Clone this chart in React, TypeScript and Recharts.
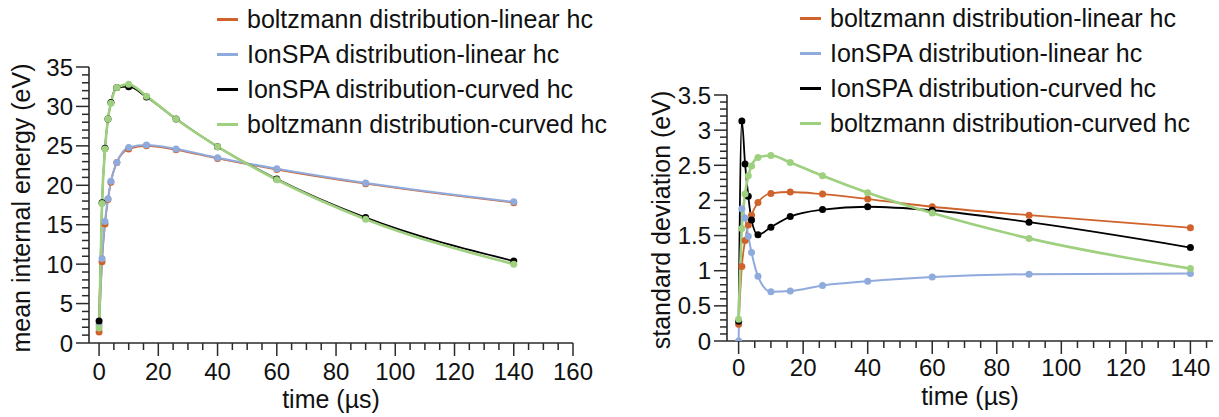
import React from 'react';
import { LineChart, Line, XAxis, YAxis, Legend } from 'recharts';

// time points (µs)
const times = [0, 1, 2, 3, 4, 6, 10, 16, 26, 40, 60, 90, 140];

// mean internal energy (eV)
const meanBoltzLinear = [1.4, 10.3, 15.1, 18.2, 20.4, 22.9, 24.6, 25.0, 24.5, 23.4, 22.0, 20.2, 17.8];
const meanIonLinear = [2.3, 10.7, 15.4, 18.3, 20.5, 22.9, 24.8, 25.1, 24.6, 23.5, 22.1, 20.3, 17.9];
const meanIonCurved = [2.8, 17.8, 24.7, 28.4, 30.5, 32.4, 32.5, 31.2, 28.4, 24.9, 20.8, 15.9, 10.4];
const meanBoltzCurved = [1.9, 17.7, 24.6, 28.4, 30.4, 32.4, 32.8, 31.3, 28.4, 24.9, 20.7, 15.7, 10.0];

// standard deviation (eV)
const sdBoltzLinear = [0.24, 1.06, 1.43, 1.65, 1.79, 1.97, 2.1, 2.12, 2.09, 2.02, 1.91, 1.79, 1.61];
const sdIonLinear = [0, 1.88, 1.75, 1.49, 1.26, 0.92, 0.7, 0.71, 0.79, 0.85, 0.91, 0.95, 0.96];
const sdIonCurved = [0.28, 3.13, 2.52, 2.06, 1.72, 1.51, 1.62, 1.77, 1.87, 1.91, 1.86, 1.69, 1.33];
const sdBoltzCurved = [0.31, 1.6, 2.09, 2.35, 2.49, 2.61, 2.64, 2.54, 2.35, 2.11, 1.82, 1.46, 1.03];

// axis ticks (majors get labels)
const meanXMajor = [0, 20, 40, 60, 80, 100, 120, 140, 160];
const meanYMajor = [0, 5, 10, 15, 20, 25, 30, 35];
const sdXMajor = [0, 20, 40, 60, 80, 100, 120, 140];
const sdYMajor = [0, 0.5, 1, 1.5, 2, 2.5, 3, 3.5];

const steps = (from: number, to: number, step: number) => {
  const out: number[] = [];
  const n = Math.round((to - from) / step);
  for (let i = 0; i <= n; i++) out.push(Math.round((from + i * step) * 1000) / 1000);
  return out;
};

const series = [
  { key: 'bl', name: 'boltzmann distribution-linear hc', color: '#D0622B', width: 1.8 },
  { key: 'il', name: 'IonSPA distribution-linear hc', color: '#8FAADC', width: 2 },
  { key: 'ic', name: 'IonSPA distribution-curved hc', color: '#000000', width: 1.8 },
  { key: 'bc', name: 'boltzmann distribution-curved hc', color: '#9FD080', width: 2.6 },
];

const meanData = times.map((t, i) => ({
  t,
  bl: meanBoltzLinear[i],
  il: meanIonLinear[i],
  ic: meanIonCurved[i],
  bc: meanBoltzCurved[i],
}));

const sdData = times.map((t, i) => ({
  t,
  bl: sdBoltzLinear[i],
  il: sdIonLinear[i],
  ic: sdIonCurved[i],
  bc: sdBoltzCurved[i],
}));

const AXIS = '#2a2a2a';
const FONT = '"Liberation Sans", Arial, sans-serif';

const isMajor = (majors: number[], v: number) => majors.some((m) => Math.abs(m - v) < 1e-6);

const yTick = (majors: number[]) => (props: any) => {
  const { x, y, payload } = props;
  const major = isMajor(majors, payload.value);
  return (
    <g>
      <line x1={x} x2={x - (major ? 13 : 7)} y1={y} y2={y} stroke={AXIS} strokeWidth={1.5} />
      {major && (
        <text x={x - 16} y={y} dy="0.36em" textAnchor="end" fontSize={24} fontFamily={FONT} fill="#111">
          {payload.value}
        </text>
      )}
    </g>
  );
};

const xTick = (majors: number[], off: number) => (props: any) => {
  const { x, y, payload } = props;
  const major = isMajor(majors, payload.value);
  return (
    <g>
      <line x1={x} x2={x} y1={y} y2={y + (major ? 13 : 7)} stroke={AXIS} strokeWidth={1.5} />
      {major && (
        <text x={x} y={y + off} textAnchor="middle" fontSize={24} fontFamily={FONT} fill="#111">
          {payload.value}
        </text>
      )}
    </g>
  );
};

const YTitle = (props: any) => {
  const { viewBox, text, axisX, off, dy } = props;
  const cx = axisX - off;
  const cy = viewBox.y + viewBox.height / 2 + dy;
  return (
    <text transform={`translate(${cx},${cy}) rotate(-90)`} textAnchor="middle" fontSize={25} fontFamily={FONT} fill="#111">
      {text}
    </text>
  );
};

const XTitle = (props: any) => {
  const { viewBox, text, off } = props;
  return (
    <text x={viewBox.x + viewBox.width / 2} y={viewBox.y + off} textAnchor="middle" fontSize={25} fontFamily={FONT} fill="#111">
      {text}
    </text>
  );
};

const LegendBox = () => (
  <div style={{ fontFamily: FONT, fontSize: 25, color: '#111', whiteSpace: 'nowrap' }}>
    {series.map((s) => (
      <div key={s.key} style={{ display: 'flex', alignItems: 'center', height: 35 }}>
        <span style={{ display: 'inline-block', width: 21, height: 2.5, background: s.color, marginRight: 9 }} />
        <span>{s.name}</span>
      </div>
    ))}
  </div>
);

const Y_W = 40;
const X_H = 30;

function Panel(props: {
  data: any[];
  left: number;
  width: number;
  plot: { top: number; right: number; bottom: number; left: number };
  xDomain: [number, number];
  yDomain: [number, number];
  xMajor: number[];
  yMajor: number[];
  xTicks: number[];
  yTicks: number[];
  xTickOff: number;
  yTitle: string;
  yTitleOff: number;
  yTitleDy: number;
  xTitleOff: number;
  legendLeft: number;
  legendTop: number;
}) {
  const { plot } = props;
  return (
    <div style={{ position: 'absolute', left: props.left, top: 0 }}>
      <LineChart
        width={props.width}
        height={417}
        data={props.data}
        margin={{ top: plot.top, right: plot.right, bottom: plot.bottom - X_H, left: plot.left - Y_W }}
      >
        <XAxis
          dataKey="t"
          type="number"
          domain={props.xDomain}
          ticks={props.xTicks}
          interval={0}
          height={X_H}
          tickSize={0}
          tickMargin={0}
          tickLine={false}
          tick={xTick(props.xMajor, props.xTickOff)}
          axisLine={{ stroke: AXIS, strokeWidth: 1.6 }}
          allowDataOverflow
          label={<XTitle text="time (µs)" off={props.xTitleOff} />}
        />
        <YAxis
          type="number"
          domain={props.yDomain}
          ticks={props.yTicks}
          interval={0}
          width={Y_W}
          tickSize={0}
          tickMargin={0}
          tickLine={false}
          tick={yTick(props.yMajor)}
          axisLine={{ stroke: AXIS, strokeWidth: 1.6 }}
          allowDataOverflow
          label={<YTitle text={props.yTitle} axisX={plot.left} off={props.yTitleOff} dy={props.yTitleDy} />}
        />
        <Legend
          layout="vertical"
          align="center"
          verticalAlign="middle"
          content={<LegendBox />}
          wrapperStyle={{ left: props.legendLeft, top: props.legendTop, width: 440, height: 140 }}
        />
        {series.map((s) => (
          <Line
            key={s.key}
            type="monotone"
            dataKey={s.key}
            name={s.name}
            stroke={s.color}
            strokeWidth={s.width}
            dot={{ r: 3.5, fill: s.color, stroke: s.color, strokeWidth: 0 }}
            activeDot={false}
            isAnimationActive={false}
          />
        ))}
      </LineChart>
    </div>
  );
}

export default function App() {
  return (
    <div style={{ position: 'absolute', left: 0, top: 0, width: 1219, height: 417, background: '#fff', overflow: 'hidden' }}>
      <Panel
        data={meanData}
        left={0}
        width={620}
        plot={{ top: 67, right: 47, bottom: 74, left: 89 }}
        xDomain={[-3.4, 160]}
        yDomain={[0, 35]}
        xMajor={meanXMajor}
        yMajor={meanYMajor}
        xTicks={steps(0, 160, 5)}
        yTicks={steps(0, 35, 1)}
        xTickOff={37}
        yTitle="mean internal energy (eV)"
        yTitleOff={59}
        yTitleDy={3}
        xTitleOff={65}
        legendLeft={217}
        legendTop={2}
      />
      <Panel
        data={sdData}
        left={610}
        width={609}
        plot={{ top: 95, right: 6, bottom: 76, left: 117 }}
        xDomain={[-3.6, 147]}
        yDomain={[0, 3.5]}
        xMajor={sdXMajor}
        yMajor={sdYMajor}
        xTicks={steps(0, 145, 5)}
        yTicks={steps(0, 3.5, 0.1)}
        xTickOff={35}
        yTitle="standard deviation (eV)"
        yTitleOff={57}
        yTitleDy={2}
        xTitleOff={64}
        legendLeft={190}
        legendTop={1}
      />
    </div>
  );
}
